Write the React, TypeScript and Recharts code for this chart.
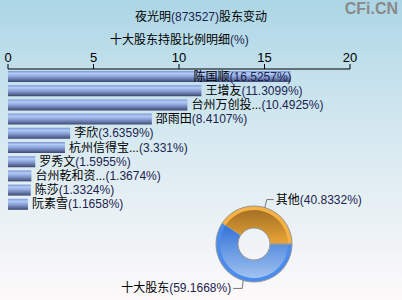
import React from 'react';
import { BarChart, Bar, XAxis, YAxis, LabelList, PieChart, Pie, Cell } from 'recharts';

const holders = ['陈国顺', '王增友', '台州万创投...', '邵雨田', '李欣', '杭州信得宝...', '罗秀文', '台州乾和资...', '陈莎', '阮素雪'];
const ratios = [16.5257, 11.3099, 10.4925, 8.4107, 3.6359, 3.331, 1.5955, 1.3674, 1.3324, 1.1658];
const axisTicks = [0, 5, 10, 15, 20];
const pieNames = ['其他', '十大股东'];
const pieValues = [40.8332, 59.1668];

const barData = holders.map((name, i) => ({ name, value: ratios[i] }));
const pieData = pieNames.map((name, i) => ({ name, value: pieValues[i] }));

const FONT = '"Liberation Sans", "Noto Sans CJK SC", sans-serif';
const NUM_COLOR = '#1c2450';
const PLOT_RIGHT = 350;

const estWidth = (s: string) => {
  let w = 0;
  for (const ch of s) {
    if (/[\u4e00-\u9fff]/.test(ch)) w += 12;
    else if (ch === '%') w += 10.7;
    else if (ch === '(' || ch === ')' || ch === '.') w += 3.8;
    else w += 6.7;
  }
  return w;
};

const BarLabel = (props: any) => {
  const { x, y, width, height, index } = props;
  const name = holders[index];
  const pct = `(${ratios[index]}%)`;
  const end = x + width;
  const w = estWidth(name + pct);
  const overflow = end + 4 + w > PLOT_RIGHT;
  return (
    <text
      x={overflow ? end + 1 : end + 4}
      y={y + height / 2}
      dominantBaseline="central"
      textAnchor={overflow ? 'end' : 'start'}
      fontSize={12}
      fontFamily={FONT}
      fill="#000"
    >
      {name}
      <tspan fill={NUM_COLOR}>{pct}</tspan>
    </text>
  );
};

const RAD = Math.PI / 180;

const PieLabel = (props: any) => {
  const { cx, cy, midAngle, outerRadius, index } = props;
  const px = cx + outerRadius * Math.cos(-midAngle * RAD);
  const py = cy + outerRadius * Math.sin(-midAngle * RAD);
  const up = py < cy;
  const ly = up ? py - 8 : py + 8;
  const right = px > cx;
  const lx = right ? px + 9 : px - 10;
  const name = pieNames[index];
  const pct = `(${pieValues[index]}%)`;
  return (
    <g>
      <polyline points={`${px},${py} ${px + (right ? 2 : -1)},${ly} ${lx},${ly}`} fill="none" stroke="#777" strokeWidth={1} />
      <text
        x={right ? lx + 2 : lx - 2}
        y={ly}
        dominantBaseline="central"
        textAnchor={right ? 'start' : 'end'}
        fontSize={12}
        fontFamily={FONT}
        fill="#000"
      >
        {name}
        <tspan fill={NUM_COLOR}>{pct}</tspan>
      </text>
    </g>
  );
};

export default function App() {
  return (
    <div
      style={{
        position: 'absolute',
        left: 0,
        top: 0,
        width: 402,
        height: 300,
        background: 'linear-gradient(to bottom, #acd6e6 0%, #d6e9f0 45%, #fdf9fa 100%)',
        fontFamily: FONT,
        overflow: 'hidden',
      }}
    >
      <div style={{ position: 'absolute', top: 7, width: 402, textAlign: 'center', fontSize: 12, color: '#000' }}>
        夜光明<span style={{ color: NUM_COLOR }}>(873527)</span>股东变动
      </div>
      <div style={{ position: 'absolute', top: 30, left: 110, fontSize: 12, color: '#000' }}>
        十大股东持股比例明细<span style={{ color: NUM_COLOR }}>(%)</span>
      </div>
      <div style={{ position: 'absolute', top: 0, right: 4, fontSize: 16, fontWeight: 'bold', color: '#8a8a8a' }}>
        CFi.CN
      </div>
      <div style={{ position: 'absolute', left: 0, top: 0 }}>
        <BarChart
          width={402}
          height={300}
          data={barData}
          layout="vertical"
          margin={{ top: 49, right: 52, left: 8, bottom: 89 }}
          barCategoryGap={3}
        >
          <defs>
            <linearGradient id="barGrad" x1="0" y1="0" x2="0" y2="1">
              <stop offset="0%" stopColor="#7a94d4" />
              <stop offset="22%" stopColor="#b2cbf8" />
              <stop offset="50%" stopColor="#8ca4d8" />
              <stop offset="80%" stopColor="#5e6e9e" />
              <stop offset="100%" stopColor="#3c466e" />
            </linearGradient>
          </defs>
          <XAxis
            type="number"
            orientation="top"
            domain={[0, 20]}
            ticks={axisTicks}
            height={20}
            stroke="#000"
            tick={{ fill: '#000', fontSize: 13, fontFamily: FONT }}
            tickSize={5}
          />
          <YAxis type="category" dataKey="name" hide />
          <Bar dataKey="value" fill="url(#barGrad)" isAnimationActive={false} barSize={11}>
            <LabelList dataKey="value" content={BarLabel} />
          </Bar>
        </BarChart>
      </div>
      <div style={{ position: 'absolute', left: 0, top: 0 }}>
        <PieChart width={402} height={300}>
          <defs>
            <linearGradient id="orangeGrad" x1="0" y1="0" x2="0" y2="1">
              <stop offset="0%" stopColor="#9c6a24" />
              <stop offset="100%" stopColor="#eaa636" />
            </linearGradient>
            <linearGradient id="blueGrad" x1="0" y1="0" x2="0" y2="1">
              <stop offset="0%" stopColor="#2f6fd6" />
              <stop offset="100%" stopColor="#a8c8f2" />
            </linearGradient>
          </defs>
          <Pie
            data={pieData}
            dataKey="value"
            cx={249}
            cy={239}
            startAngle={0}
            endAngle={360}
            innerRadius={16}
            outerRadius={38}
            stroke="none"
            labelLine={false}
            label={PieLabel}
            isAnimationActive={false}
          >
            <Cell fill="url(#orangeGrad)" />
            <Cell fill="url(#blueGrad)" />
          </Pie>
          <Pie
            data={pieData}
            dataKey="value"
            cx={249}
            cy={239}
            startAngle={0}
            endAngle={360}
            innerRadius={34}
            outerRadius={38}
            stroke="none"
            isAnimationActive={false}
          >
            <Cell fill="#f6b244" />
            <Cell fill="#4a8cee" />
          </Pie>
          <Pie
            data={[{ value: 1 }]}
            dataKey="value"
            cx={249}
            cy={239}
            innerRadius={16}
            outerRadius={38}
            fill="none"
            stroke="#999"
            strokeWidth={1}
            isAnimationActive={false}
          />
        </PieChart>
      </div>
    </div>
  );
}
